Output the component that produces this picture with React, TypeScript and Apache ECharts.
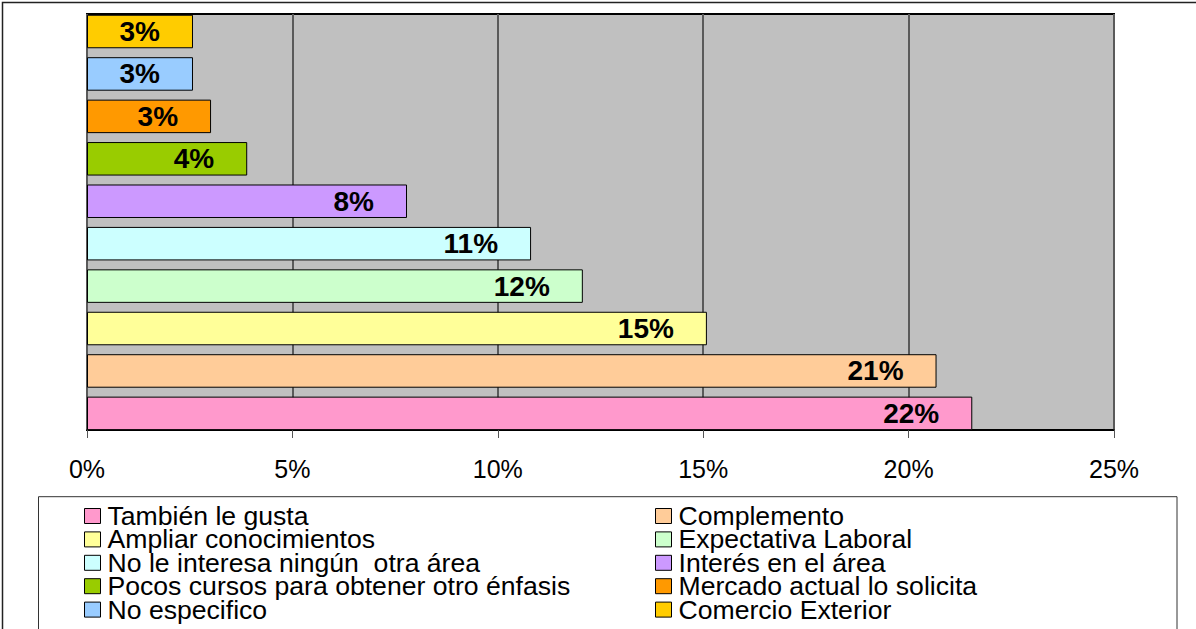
import React, { useEffect, useRef } from 'react';
import * as echarts from 'echarts';

const categories = [
  'También le gusta',
  'Complemento',
  'Ampliar conocimientos',
  'Expectativa Laboral',
  'No le interesa ningún  otra área',
  'Interés en el área',
  'Pocos cursos para obtener otro énfasis',
  'Mercado actual lo solicita',
  'No especifico',
  'Comercio Exterior',
];
const values = [21.55, 20.68, 15.09, 12.07, 10.81, 7.79, 3.9, 3.02, 2.58, 2.58];
const colors = ['#FF99CC', '#FFCC99', '#FFFF99', '#CCFFCC', '#CCFFFF', '#CC99FF', '#99CC00', '#FF9900', '#99CCFF', '#FFCC00'];
const xMin = 0;
const xMax = 25;
const xInterval = 5;

const FONT = '"Liberation Sans", Arial, sans-serif';

export default function App() {
  const ref = useRef<HTMLDivElement>(null);
  useEffect(() => {
    if (!ref.current) return;
    const chart = echarts.init(ref.current, null, { renderer: 'svg' });
    const leftNames = categories.filter((_, i) => i % 2 === 0);
    const rightNames = categories.filter((_, i) => i % 2 === 1);
    const series = categories.map((name, i) => ({
      type: 'bar',
      name,
      xAxisIndex: 0,
      yAxisIndex: 0,
      data: categories.map((_, j) => (j === i ? values[i] : '-')),
      barWidth: 33.5,
      barGap: '-100%',
      itemStyle: { color: colors[i], borderColor: '#000', borderWidth: 1 },
      label: {
        show: true,
        position: 'insideRight',
        distance: 33,
        formatter: (p: any) => Math.round(p.value) + '%',
        fontSize: 28,
        fontWeight: 'bold',
        color: '#000',
        fontFamily: FONT,
      },
    }));
    const legendBase = {
      orient: 'vertical',
      top: 502.5,
      height: 126,
      itemWidth: 16,
      itemHeight: 15,
      itemGap: -3.6,
      padding: 0,
      icon: 'rect',
      selectedMode: false,
      itemStyle: { borderColor: '#000', borderWidth: 1 },
      textStyle: { fontSize: 26.6, color: '#000', fontFamily: FONT, padding: [0, 0, 0, 2] },
    };
    chart.setOption({
      animation: false,
      backgroundColor: '#fff',
      grid: [
        { left: 87, width: 1027, top: 10.3, height: 424.3, show: false },
        {
          left: 87,
          width: 1027,
          top: 14,
          height: 416,
          show: true,
          backgroundColor: '#C0C0C0',
          borderColor: '#000',
          borderWidth: 2,
        },
      ],
      xAxis: [
        { type: 'value', gridIndex: 0, min: xMin, max: xMax, interval: xInterval, show: false },
        {
          type: 'value',
          gridIndex: 1,
          min: xMin,
          max: xMax,
          interval: xInterval,
          axisLine: { show: true, lineStyle: { color: '#000', width: 1.5 } },
          axisTick: { show: true, length: 8, lineStyle: { color: '#555', width: 1 } },
          splitLine: { show: true, lineStyle: { color: '#5a5a5a', width: 2 } },
          axisLabel: {
            formatter: '{value}%',
            fontSize: 25,
            color: '#000',
            fontFamily: FONT,
            margin: 26,
          },
        },
      ],
      yAxis: [
        { type: 'category', gridIndex: 0, data: categories, show: false },
        { type: 'value', gridIndex: 1, show: false, splitLine: { show: false } },
      ],
      legend: [
        { ...legendBase, left: 84, data: leftNames },
        { ...legendBase, left: 655, data: rightNames },
      ],
      graphic: [
        {
          type: 'rect',
          z: -10,
          shape: { x: 38.5, y: 496.7, width: 1138.5, height: 200 },
          style: { fill: '#fff', stroke: '#333', lineWidth: 1 },
        },
        {
          type: 'rect',
          z: 100,
          shape: { x: 2.5, y: 2.5, width: 1300, height: 700 },
          style: { fill: 'none', stroke: '#222', lineWidth: 1.5 },
        },
      ],
      series,
    });
    return () => chart.dispose();
  }, []);
  return (
    <div
      ref={ref}
      style={{ position: 'fixed', left: 0, top: 0, width: 1196, height: 629 }}
    />
  );
}
